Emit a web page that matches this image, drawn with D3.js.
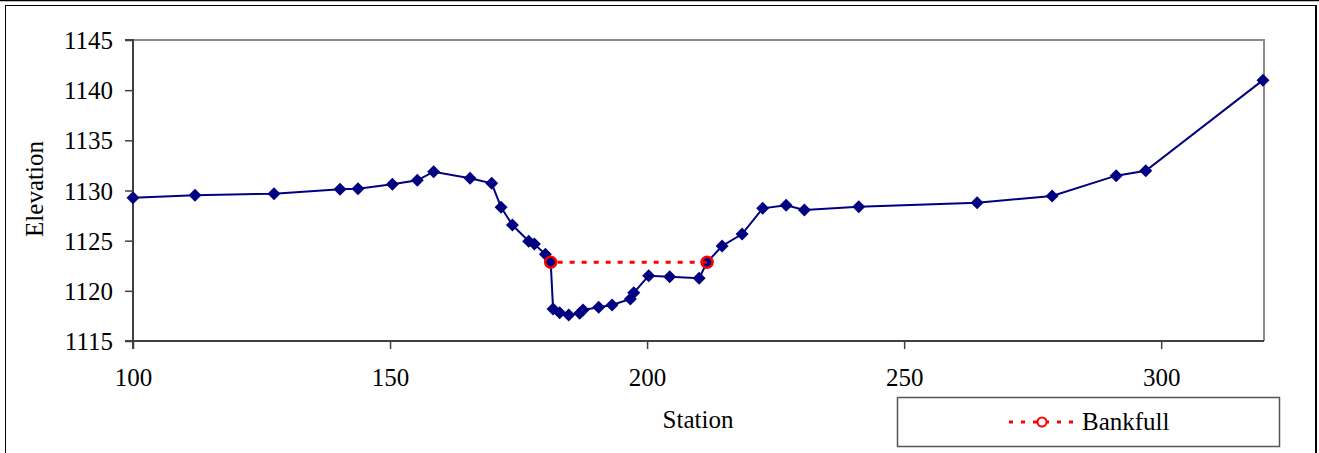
<!DOCTYPE html>
<html>
<head>
<meta charset="utf-8">
<script src="https://cdn.jsdelivr.net/npm/d3@7"></script>
<style>
  html, body { margin: 0; padding: 0; background: #fff; }
  svg { display: block; }
  text { font-family: "Liberation Serif", "Times New Roman", serif; fill: #000; }
</style>
</head>
<body>
<svg id="chart" width="1319" height="453"></svg>
<script>
// Cross-section survey: station (x) and elevation (y)
const station = [100, 112.06, 127.43, 140.27, 143.77, 150.45, 155.31, 158.48, 165.56, 169.77,
  171.6, 173.8, 176.97, 178.07, 180.21, 181.25, 181.71, 183.0, 184.75, 186.89, 187.55,
  190.58, 193.19, 196.75, 197.4, 200.31, 204.4, 210.12, 211.67, 214.59, 218.48, 222.49,
  227.04, 230.6, 241.17, 264.2, 278.79, 291.25, 297.0, 319.8];
const elevation = [1129.28, 1129.52, 1129.68, 1130.12, 1130.18, 1130.62, 1131.02, 1131.87, 1131.22, 1130.72,
  1128.32, 1126.56, 1124.94, 1124.67, 1123.64, 1122.87, 1118.2, 1117.82, 1117.59, 1117.76, 1118.09,
  1118.36, 1118.59, 1119.19, 1119.81, 1121.51, 1121.41, 1121.25, 1122.85, 1124.47, 1125.66, 1128.22,
  1128.52, 1128.06, 1128.39, 1128.79, 1129.45, 1131.48, 1131.97, 1141.0];
const bankfullStation = [181.25, 211.67];
const bankfullElevation = [1122.85, 1122.85];
const xTicks = [100, 150, 200, 250, 300];
const yTicks = [1115, 1120, 1125, 1130, 1135, 1140, 1145];
const legendLabel = "Bankfull";
const xTitle = "Station";
const yTitle = "Elevation";

const svg = d3.select("#chart");
const W = 1319, H = 453;
const plot = { left: 133, right: 1264, top: 40, bottom: 341 };
const FS = 25;

// outer frames
svg.append("line").attr("x1", 0).attr("x2", W).attr("y1", 0.5).attr("y2", 0.5)
  .attr("stroke", "#000").attr("stroke-width", 1.5);
svg.append("rect").attr("x", 5.5).attr("y", 5.5).attr("width", 1310.5).attr("height", H)
  .attr("fill", "none").attr("stroke", "#000").attr("stroke-width", 1);
svg.append("line").attr("x1", 1316).attr("x2", 1316).attr("y1", 5).attr("y2", H)
  .attr("stroke", "#000").attr("stroke-width", 2);

const x = d3.scaleLinear().domain([100, 320]).range([plot.left, plot.right]);
const y = d3.scaleLinear().domain([1115, 1145]).range([plot.bottom, plot.top]);

// plot area top & right border (gray)
svg.append("path")
  .attr("d", `M${plot.left},${plot.top}H${plot.right}V${plot.bottom}`)
  .attr("fill", "none").attr("stroke", "#8c8c8c").attr("stroke-width", 2);

// axes
const yAxis = d3.axisLeft(y).tickValues(yTicks).tickSize(8).tickPadding(12).tickFormat(d3.format("d"));
const gy = svg.append("g").attr("transform", `translate(${plot.left},0)`).call(yAxis);
const xAxis = d3.axisBottom(x).tickValues(xTicks).tickSize(8).tickPadding(20).tickFormat(d3.format("d"));
const gx = svg.append("g").attr("transform", `translate(0,${plot.bottom})`).call(xAxis);
[gx, gy].forEach(g => {
  g.select(".domain").attr("stroke", "#404040").attr("stroke-width", 2);
  g.selectAll(".tick line").attr("stroke", "#404040").attr("stroke-width", 1.5);
  g.selectAll(".tick text").attr("font-family", "Liberation Serif, Times New Roman, serif")
    .attr("font-size", FS).attr("fill", "#000");
});
gy.select(".domain").attr("d", `M-8,${plot.top}H0V${plot.bottom}H-8`);
gx.select(".domain").attr("d", `M${plot.left},8V0H${plot.right}`);
gy.selectAll(".tick text").attr("x", -20).attr("dy", "0.34em");
gx.selectAll(".tick text").attr("y", 27).attr("dy", "0.71em");

// axis titles
svg.append("text").attr("x", 698).attr("y", 428).attr("text-anchor", "middle")
  .attr("font-size", FS).text(xTitle);
svg.append("text").attr("transform", "translate(43,189) rotate(-90)").attr("text-anchor", "middle")
  .attr("font-size", FS).text(yTitle);

// main series
const pts = station.map((s, i) => [s, elevation[i]]);
const line = d3.line().x(d => x(d[0])).y(d => y(d[1]));
svg.append("path").datum(pts).attr("d", line)
  .attr("fill", "none").attr("stroke", "#000080").attr("stroke-width", 2);
svg.append("g").selectAll("path").data(pts).join("path")
  .attr("transform", d => `translate(${x(d[0])},${y(d[1])})`)
  .attr("d", "M0,-6.5L6.5,0L0,6.5L-6.5,0Z")
  .attr("fill", "#000080");

// bankfull series
const bpts = bankfullStation.map((s, i) => [s, bankfullElevation[i]]);
svg.append("path").datum(bpts).attr("d", line)
  .attr("fill", "none").attr("stroke", "#ff0000").attr("stroke-width", 3)
  .attr("stroke-dasharray", "5,7").attr("stroke-dashoffset", -7);
svg.append("g").selectAll("circle").data(bpts).join("circle")
  .attr("cx", d => x(d[0])).attr("cy", d => y(d[1])).attr("r", 5.5)
  .attr("fill", "none").attr("stroke", "#ff0000").attr("stroke-width", 2.5);

// legend
const lg = svg.append("g");
lg.append("rect").attr("x", 897.5).attr("y", 397.5).attr("width", 382).attr("height", 49)
  .attr("fill", "#fff").attr("stroke", "#555").attr("stroke-width", 1.5);
lg.append("line").attr("x1", 1009).attr("x2", 1077).attr("y1", 422).attr("y2", 422)
  .attr("stroke", "#ff0000").attr("stroke-width", 3).attr("stroke-dasharray", "4,8");
lg.append("circle").attr("cx", 1042).attr("cy", 422).attr("r", 4.5)
  .attr("fill", "#fff").attr("stroke", "#ff0000").attr("stroke-width", 2);
lg.append("text").attr("x", 1082).attr("y", 430).attr("font-size", FS).text(legendLabel);
</script>
</body>
</html>
